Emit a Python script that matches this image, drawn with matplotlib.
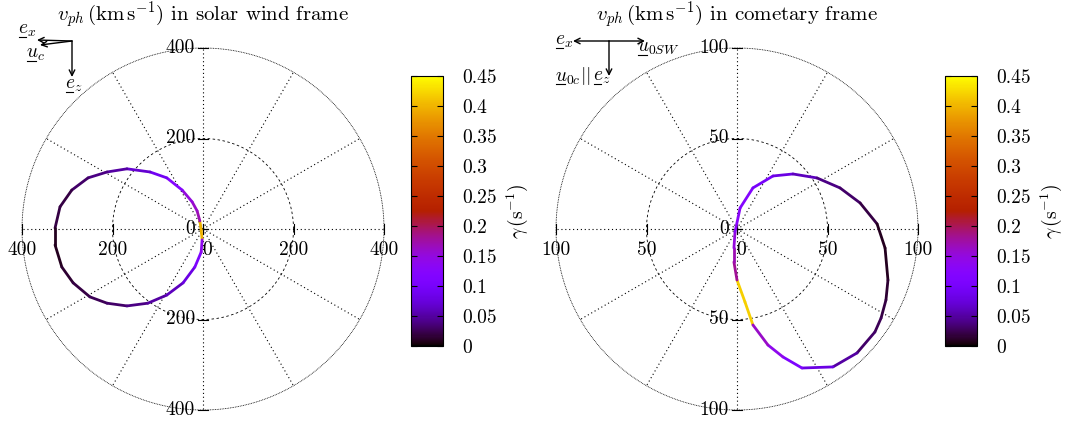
import numpy as np
import matplotlib
matplotlib.use("Agg")
import matplotlib.pyplot as plt
from matplotlib.collections import LineCollection
from matplotlib.colors import Normalize
from matplotlib.cm import ScalarMappable

plt.rcParams['font.family'] = 'cmr10'
plt.rcParams['mathtext.fontset'] = 'cm'
plt.rcParams['axes.unicode_minus'] = False
plt.rcParams['axes.formatter.use_mathtext'] = True

# solar wind frame curve (km/s), gamma (1/s) per point
sw_x = [-2, -4, -7, -13, -24, -46, -80, -117, -168, -212, -254, -290, -316,
        -327, -327, -312, -287, -250, -212, -168, -122, -80, -44, -18, -4, -2]
sw_y = [-24, -2, 18, 40, 60, 86, 113, 126, 133, 126, 113, 86, 49,
        2, -35, -84, -119, -150, -164, -170, -164, -146, -119, -84, -51, -24]
sw_gamma = [0.40, 0.40, 0.17, 0.16, 0.15, 0.12, 0.09, 0.07, 0.05, 0.04, 0.03, 0.02, 0.02,
            0.01, 0.01, 0.015, 0.02, 0.025, 0.03, 0.04, 0.05, 0.06, 0.08, 0.11, 0.14, 0.14]

# cometary frame curve (km/s)
com_x = [8.8, 4.4, 0.0, -1.7, -1.7, -1.1, 1.7, 8.8, 19.9, 30.9, 44.2, 56.9, 68.0,
         77.4, 81.8, 83.4, 82.3, 79.6, 76.2, 66.3, 53.0, 35.9, 25.4, 17.1, 8.8]
com_y = [-53.0, -40.3, -28.2, -18.2, -10.5, -1.7, 11.6, 22.7, 29.3, 30.4, 28.2, 22.7, 14.4,
         2.8, -10.5, -28.2, -39.2, -49.2, -56.9, -68.5, -76.2, -76.8, -70.7, -64.1, -53.0]
com_gamma = [0.42, 0.42, 0.18, 0.17, 0.15, 0.13, 0.12, 0.10, 0.08, 0.06, 0.04, 0.03, 0.02,
             0.01, 0.01, 0.015, 0.02, 0.025, 0.03, 0.05, 0.08, 0.11, 0.14, 0.16, 0.16]

sw_rings = [200, 400]
com_rings = [50, 100]
cb_ticks = [0, 0.05, 0.1, 0.15, 0.2, 0.25, 0.3, 0.35, 0.4, 0.45]
cb_labels = ['0', '0.05', '0.1', '0.15', '0.2', '0.25', '0.3', '0.35', '0.4', '0.45']

W, H = 1065, 422
fig = plt.figure(figsize=(W / 100, H / 100), dpi=100)
norm = Normalize(0, 0.45)
cmap = plt.get_cmap('gnuplot')


def polar_panel(cx_px, rings, xs, ys, gam, title):
    rmax = rings[-1]
    half = 190
    lim = half * rmax / 181.0
    ax = fig.add_axes([(cx_px - half) / W, (H - 229 - half) / H, 2 * half / W, 2 * half / H])
    ax.set_xlim(-lim, lim)
    ax.set_ylim(-lim, lim)
    ax.axis('off')
    t = np.linspace(0, 2 * np.pi, 400)
    ax.plot(rings[0] * np.cos(t), rings[0] * np.sin(t), color='k', ls=(0, (3, 3)), lw=0.6)
    ax.plot(rmax * np.cos(t), rmax * np.sin(t), color='k', ls=(0, (1, 1)), lw=0.6)
    for a in np.deg2rad(np.arange(0, 360, 30)):
        ax.plot([0, rmax * np.cos(a)], [0, rmax * np.sin(a)], color='k', ls=(0, (1, 2.5)), lw=0.8)
    tk = rmax * 5 / 181.0
    for r in [0] + rings:
        for sgn in (1, -1):
            ax.plot([-tk, tk], [sgn * r, sgn * r], color='k', lw=0.8)
            ax.plot([sgn * r, sgn * r], [-tk, tk], color='k', lw=0.8)
    for r in [0] + rings:
        for sgn in ([1] if r == 0 else [1, -1]):
            ax.text(-rmax * 8 / 181.0, sgn * r, str(r), ha='right', va='center', fontsize=14)
        for sgn in ([1] if r == 0 else [1, -1]):
            ax.text(sgn * r + (rmax * 4 / 181.0 if r == 0 else 0), -rmax * 12 / 181.0, str(r),
                    ha='center', va='top', fontsize=14)
    pts = np.column_stack([xs, ys])
    segs = np.stack([pts[:-1], pts[1:]], axis=1)
    lc = LineCollection(segs, cmap=cmap, norm=norm, linewidths=2.0, capstyle='round')
    lc.set_array(np.asarray(gam[:-1]))
    ax.add_collection(lc)
    fig.text(cx_px / W, 1 - 15 / H, title, ha='center', va='center', fontsize=15)
    return ax


def colorbar(x_px):
    cax = fig.add_axes([x_px / W, 76 / H, 32 / W, 270 / H])
    cb = fig.colorbar(ScalarMappable(norm=norm, cmap=cmap), cax=cax)
    cb.set_ticks(cb_ticks)
    cb.set_ticklabels(cb_labels)
    cb.ax.tick_params(direction='in', left=True, right=True, length=4, width=0.8,
                      labelsize=14, pad=14)
    cb.outline.set_linewidth(0.8)
    cb.set_label(r'$\gamma\,(\mathrm{s}^{-1})$', fontsize=14, labelpad=5)


polar_panel(203, sw_rings, sw_x, sw_y, sw_gamma,
            r'$v_{ph}\,(\mathrm{km\,s^{-1}})$ in solar wind frame')
polar_panel(737, com_rings, com_x, com_y, com_gamma,
            r'$v_{ph}\,(\mathrm{km\,s^{-1}})$ in cometary frame')
colorbar(411)
colorbar(945)

# frame arrows
ov = fig.add_axes([0, 0, 1, 1])
ov.set_xlim(0, W)
ov.set_ylim(H, 0)
ov.axis('off')
arr = dict(arrowstyle='->', color='k', lw=1.0, shrinkA=0, shrinkB=0)


def uvec(x, y, s, w):
    # vector symbol with underline below the base letter
    ov.text(x, y, s, ha='left', va='baseline', fontsize=14)
    ov.plot([x + 0.5, x + w], [y + 3, y + 3], color='k', lw=0.8)


ov.annotate('', xy=(37, 40), xytext=(72, 41), arrowprops=arr)
ov.annotate('', xy=(40, 45), xytext=(72, 41), arrowprops=arr)
ov.annotate('', xy=(72, 77), xytext=(72, 41), arrowprops=arr)
uvec(18, 34, r'$e_x$', 8)
uvec(26, 58, r'$u_c$', 10)
uvec(65, 89, r'$e_z$', 8)

ov.annotate('', xy=(573, 41), xytext=(609, 41), arrowprops=arr)
ov.annotate('', xy=(645, 41), xytext=(609, 41), arrowprops=arr)
ov.annotate('', xy=(609, 76), xytext=(609, 41), arrowprops=arr)
uvec(555, 45, r'$e_x$', 8)
uvec(637, 52, r'$u_{0SW}$', 10)
uvec(555, 81, r'$u_{0c}||$', 10)
uvec(593, 81, r'$e_z$', 8)

fig.savefig('out.png', dpi=100)
